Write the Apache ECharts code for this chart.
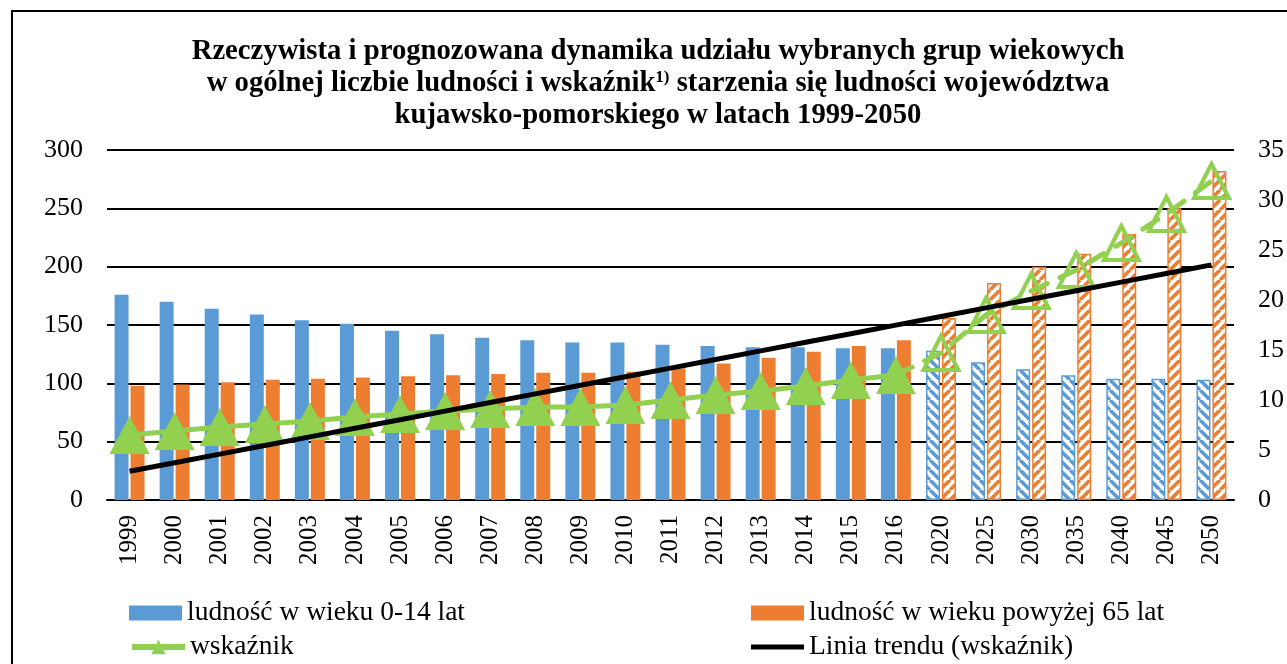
<!DOCTYPE html>
<html>
<head>
<meta charset="utf-8">
<script src="https://cdn.jsdelivr.net/npm/echarts@6/dist/echarts.min.js"></script>
<style>
  html, body { margin: 0; padding: 0; background: #fff; }
  #chart { width: 1287px; height: 664px; }
</style>
</head>
<body>
<div id="chart"></div>
<script>
// lata: 1999-2016 dane rzeczywiste, 2020-2050 prognoza
const years = ['1999', '2000', '2001', '2002', '2003', '2004', '2005', '2006', '2007', '2008',
  '2009', '2010', '2011', '2012', '2013', '2014', '2015', '2016',
  '2020', '2025', '2030', '2035', '2040', '2045', '2050'];
const young = [176, 170, 164, 159, 154, 151, 145, 142, 139, 137, 135, 135, 133, 132, 131, 131, 130, 130,
  128, 118, 112, 107, 104, 104, 103];
const old = [98, 99, 101, 103, 104, 105, 106, 107, 108, 109, 109, 110, 113, 117, 122, 127, 132, 137,
  156, 186, 200, 211, 228, 250, 282];
const ratio = [6.5, 6.9, 7.3, 7.6, 7.9, 8.3, 8.6, 8.9, 9.1, 9.3, 9.3, 9.5, 10.0, 10.5, 10.9, 11.4, 12.0, 12.5,
  14.7, 18.5, 20.9, 23.0, 25.7, 28.6, 31.9];
const leftTicks = [0, 300, 50];
const rightTicks = [0, 35, 5];
const lastReal = 17; // indeks roku 2016

const BLUE = '#5B9BD5';
const ORANGE = '#ED7D31';
const GREEN = '#92D050';
const FONT = 'Liberation Serif';

// linia trendu - regresja liniowa wskaźnika po kolejnych punktach (jak w Excelu)
const n = ratio.length;
const mx = (n - 1) / 2;
const my = ratio.reduce((a, b) => a + b, 0) / n;
let sxy = 0, sxx = 0;
ratio.forEach((v, i) => { sxy += (i - mx) * (v - my); sxx += (i - mx) * (i - mx); });
const slope = sxy / sxx;
const icpt = my - slope * mx;
const trend = ratio.map((v, i) => +(icpt + slope * i).toFixed(2));

// kreskowanie słupków prognozy: rising = '/', inaczej '\'
function stripes(color, rising) {
  const s = 10;
  const c = document.createElement('canvas');
  c.width = s;
  c.height = s;
  const ctx = c.getContext('2d');
  ctx.fillStyle = '#fff';
  ctx.fillRect(0, 0, s, s);
  ctx.strokeStyle = color;
  ctx.lineWidth = 3.6;
  ctx.beginPath();
  [-s, 0, s].forEach(o => {
    if (rising) { ctx.moveTo(o, s); ctx.lineTo(o + s, 0); }
    else { ctx.moveTo(o, 0); ctx.lineTo(o + s, s); }
  });
  ctx.stroke();
  return { image: c, repeat: 'repeat' };
}

function hatched(values, color, rising) {
  const pat = stripes(color, rising);
  return values.map((v, i) => {
    if (i <= lastReal) return v;
    return {
      value: v,
      itemStyle: { color: pat, borderColor: color, borderWidth: 1.5 }
    };
  });
}

const realRatio = ratio.map((v, i) => (i <= lastReal ? v : '-'));
const forecastRatio = ratio.map((v, i) => {
  if (i < lastReal) return '-';
  if (i === lastReal) return { value: v, symbol: 'none' };
  return v;
});

const legendText = { fontFamily: FONT, fontSize: 27.5, lineHeight: 32, color: '#000' };
function legendAt(left, top, item, h) {
  return {
    left: left,
    top: top,
    itemWidth: 53,
    itemHeight: h,
    data: [item],
    lineStyle: { width: 6 },
    textStyle: legendText
  };
}

const chart = echarts.init(document.getElementById('chart'));
chart.setOption({
  animation: false,
  backgroundColor: '#fff',
  textStyle: { fontFamily: FONT },
  title: {
    left: 653,
    top: 31,
    textAlign: 'center',
    text: 'Rzeczywista i prognozowana dynamika udziału wybranych grup wiekowych\n' +
      'w ogólnej liczbie ludności i wskaźnik{sup|1)} starzenia się ludności województwa\n' +
      'kujawsko-pomorskiego w latach 1999-2050',
    textStyle: {
      fontFamily: FONT,
      fontWeight: 'bold',
      fontSize: 28.7,
      lineHeight: 32,
      color: '#000',
      rich: {
        sup: { fontFamily: FONT, fontWeight: 'bold', fontSize: 17, lineHeight: 32, padding: [0, 0, 13, 0] }
      }
    }
  },
  graphic: [{
    type: 'rect',
    shape: { x: 12, y: 11, width: 1400, height: 800 },
    style: { fill: 'none', stroke: '#000', lineWidth: 2 },
    silent: true
  }],
  grid: { left: 107, right: 51, top: 150, bottom: 164 },
  legend: [
    legendAt(124, 592, { name: 'ludność w wieku 0-14 lat', icon: 'rect' }, 15),
    legendAt(124, 626, 'wskaźnik', 18),
    legendAt(746, 592, { name: 'ludność w wieku powyżej 65 lat', icon: 'rect' }, 15),
    legendAt(746, 626, { name: 'Linia trendu (wskaźnik)', icon: 'rect' }, 5)
  ],
  xAxis: {
    type: 'category',
    data: years,
    axisLine: { lineStyle: { color: '#000', width: 2 } },
    axisTick: { show: false },
    axisLabel: { rotate: 90, margin: 15, fontFamily: FONT, fontSize: 25, color: '#000' }
  },
  yAxis: [{
    type: 'value',
    min: leftTicks[0],
    max: leftTicks[1],
    interval: leftTicks[2],
    axisLine: { show: false },
    axisTick: { show: false },
    splitLine: { lineStyle: { color: '#000', width: 2 } },
    axisLabel: { margin: 24, fontFamily: FONT, fontSize: 26, color: '#000' }
  }, {
    type: 'value',
    min: rightTicks[0],
    max: rightTicks[1],
    interval: rightTicks[2],
    axisLine: { show: false },
    axisTick: { show: false },
    splitLine: { show: false },
    axisLabel: { margin: 24, fontFamily: FONT, fontSize: 26, color: '#000' }
  }],
  series: [{
    name: 'ludność w wieku 0-14 lat',
    type: 'bar',
    barWidth: 14,
    barGap: '14%',
    itemStyle: { color: BLUE },
    data: hatched(young, BLUE, false),
    z: 2
  }, {
    name: 'ludność w wieku powyżej 65 lat',
    type: 'bar',
    barWidth: 14,
    itemStyle: { color: ORANGE },
    data: hatched(old, ORANGE, true),
    z: 2
  }, {
    name: 'wskaźnik',
    type: 'line',
    yAxisIndex: 1,
    symbol: 'triangle',
    symbolSize: [40, 38],
    itemStyle: { color: GREEN },
    lineStyle: { color: GREEN, width: 5 },
    data: realRatio,
    z: 4
  }, {
    name: 'wskaźnik prognoza',
    type: 'line',
    yAxisIndex: 1,
    symbol: 'triangle',
    symbolSize: [35, 34],
    itemStyle: { color: 'rgba(255,255,255,0)', borderColor: GREEN, borderWidth: 4 },
    lineStyle: { color: GREEN, width: 5, type: [18, 14], cap: 'round' },
    data: forecastRatio,
    z: 4
  }, {
    name: 'Linia trendu (wskaźnik)',
    type: 'line',
    yAxisIndex: 1,
    symbol: 'none',
    itemStyle: { color: '#000' },
    lineStyle: { color: '#000', width: 5 },
    data: trend,
    z: 6
  }]
});
</script>
</body>
</html>
